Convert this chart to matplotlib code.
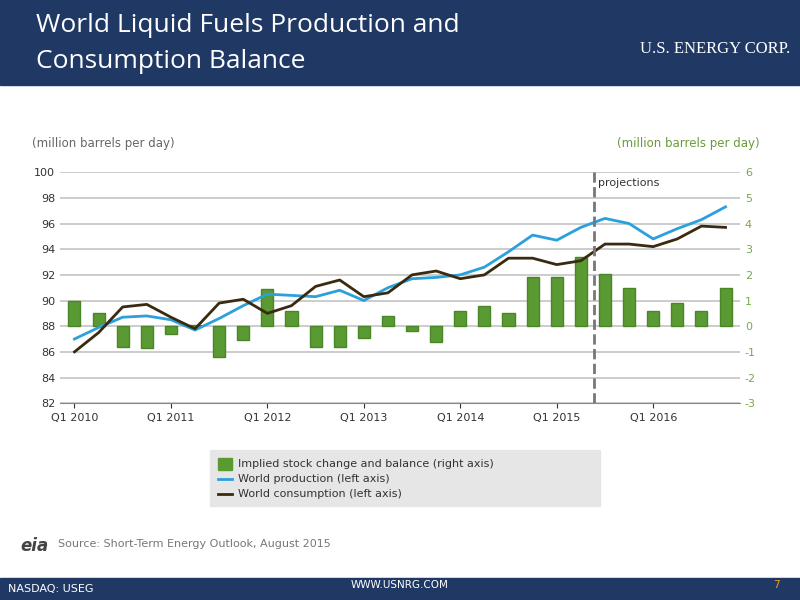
import matplotlib
matplotlib.use("Agg")
import matplotlib.pyplot as plt
import numpy as np
from matplotlib.patches import Rectangle

plt.rcParams["axes.unicode_minus"] = False

quarters = [f"Q{q} {y}" for y in range(2010, 2017) for q in range(1, 5)]
stock_change = [1.0, 0.5, -0.8, -0.85,
                -0.3, 0.03, -1.2, -0.55,
                1.45, 0.6, -0.8, -0.8,
                -0.45, 0.4, -0.2, -0.6,
                0.6, 0.8, 0.5, 1.9,
                1.9, 2.7, 2.05, 1.5,
                0.6, 0.9, 0.6, 1.5]
production = [87.0, 87.9, 88.7, 88.8, 88.5, 87.7, 88.6, 89.6,
              90.5, 90.4, 90.3, 90.8, 90.0, 91.0, 91.7, 91.8,
              92.0, 92.6, 93.8, 95.1, 94.7, 95.7, 96.4, 96.0,
              94.8, 95.6, 96.3, 97.3]
consumption = [86.0, 87.5, 89.5, 89.7, 88.7, 87.8, 89.8, 90.1,
               89.0, 89.6, 91.1, 91.6, 90.3, 90.6, 92.0, 92.3,
               91.7, 92.0, 93.3, 93.3, 92.8, 93.1, 94.4, 94.4,
               94.2, 94.8, 95.8, 95.7]
tick_labels = ["Q1 2010", "Q1 2011", "Q1 2012", "Q1 2013", "Q1 2014", "Q1 2015", "Q1 2016"]

navy = "#1f3864"
green = "#5a9a32"
fig = plt.figure(figsize=(8, 6), dpi=100)
fig.patch.set_facecolor("white")

# header
fig.add_artist(Rectangle((0, 1 - 85/600), 1, 85/600, transform=fig.transFigure, color=navy, zorder=0))
fig.text(0.045, 0.958, "World Liquid Fuels Production and", color="white", fontsize=19, va="center", family="Open Sans")
fig.text(0.045, 0.898, "Consumption Balance", color="white", fontsize=19, va="center", family="Open Sans")
fig.text(0.80, 0.918, "U.S. ENERGY CORP.", color="white", fontsize=12, va="center", family="Liberation Serif")
# footer
fig.add_artist(Rectangle((0, 0), 1, 22/600, transform=fig.transFigure, color=navy, zorder=0))
fig.text(0.01, 0.018, "NASDAQ: USEG", color="white", fontsize=8, va="center")
fig.text(0.5, 0.025, "WWW.USNRG.COM", color="white", fontsize=7.5, va="center", ha="center")
fig.text(0.975, 0.025, "7", color="#f0a020", fontsize=7.5, va="center", ha="right")

x = np.arange(len(quarters))
ax = fig.add_axes([0.075, 0.328, 0.85, 0.385])
ax2 = ax.twinx()
ax.set_zorder(ax2.get_zorder() + 1)
ax.patch.set_visible(False)

ax2.bar(x, stock_change, width=0.5, color=green, edgecolor="#4a8528", zorder=2)
ax2.set_ylim(-3, 6)
ax2.set_yticks(range(-3, 7))
ax2.tick_params(axis="y", colors="#7aa84a", labelsize=8, length=0)

ax.plot(x, production, color="#2aa0dc", lw=2)
ax.plot(x, consumption, color="#3a2a10", lw=2)
ax.set_ylim(82, 100)
ax.set_yticks(range(82, 101, 2))
ax.set_xlim(-0.6, 27.6)
ax.set_xticks(np.arange(0, 28, 4))
ax.set_xticklabels(tick_labels)
ax.tick_params(axis="both", labelsize=8, colors="#333333")
ax.tick_params(axis="y", length=0)
for a in (ax, ax2):
    for s in a.spines.values():
        s.set_visible(False)
for yv in range(82, 101, 2):
    ax2.axhline((yv - 88) / 2, color="#c8c8c8", lw=1.3, zorder=1)
ax.spines["bottom"].set_visible(True)
ax.spines["bottom"].set_color("#888888")
ax.axvline(21.55, color="#777777", ls="--", lw=2)
ax.text(21.7, 98.9, "projections", fontsize=8, color="#333333")

fig.text(0.04, 0.755, "(million barrels per day)", fontsize=8.5, color="#666666")
fig.text(0.95, 0.755, "(million barrels per day)", fontsize=8.5, color="#6a9a3a", ha="right")

# legend box
fig.add_artist(Rectangle((210/800, 1 - 506/600), 390/800, 56/600, transform=fig.transFigure, color="#e6e6e6", zorder=0))
fig.add_artist(Rectangle((218/800, 1 - 470/600), 14/800, 12/600, transform=fig.transFigure, color=green))
fig.text(238/800, 1 - 464/600, "Implied stock change and balance (right axis)", fontsize=8, va="center", color="#333333")
fig.add_artist(plt.Line2D([218/800, 232/800], [1 - 479/600] * 2, color="#2aa0dc", lw=2, transform=fig.transFigure))
fig.text(238/800, 1 - 479/600, "World production (left axis)", fontsize=8, va="center", color="#333333")
fig.add_artist(plt.Line2D([218/800, 232/800], [1 - 494/600] * 2, color="#3a2a10", lw=2, transform=fig.transFigure))
fig.text(238/800, 1 - 494/600, "World consumption (left axis)", fontsize=8, va="center", color="#333333")

fig.text(0.025, 0.082, "eia", fontsize=12, color="#444444", style="italic", weight="bold")
fig.text(0.073, 0.088, "Source: Short-Term Energy Outlook, August 2015", fontsize=8, color="#777777")

fig.savefig("out.png", dpi=100)
